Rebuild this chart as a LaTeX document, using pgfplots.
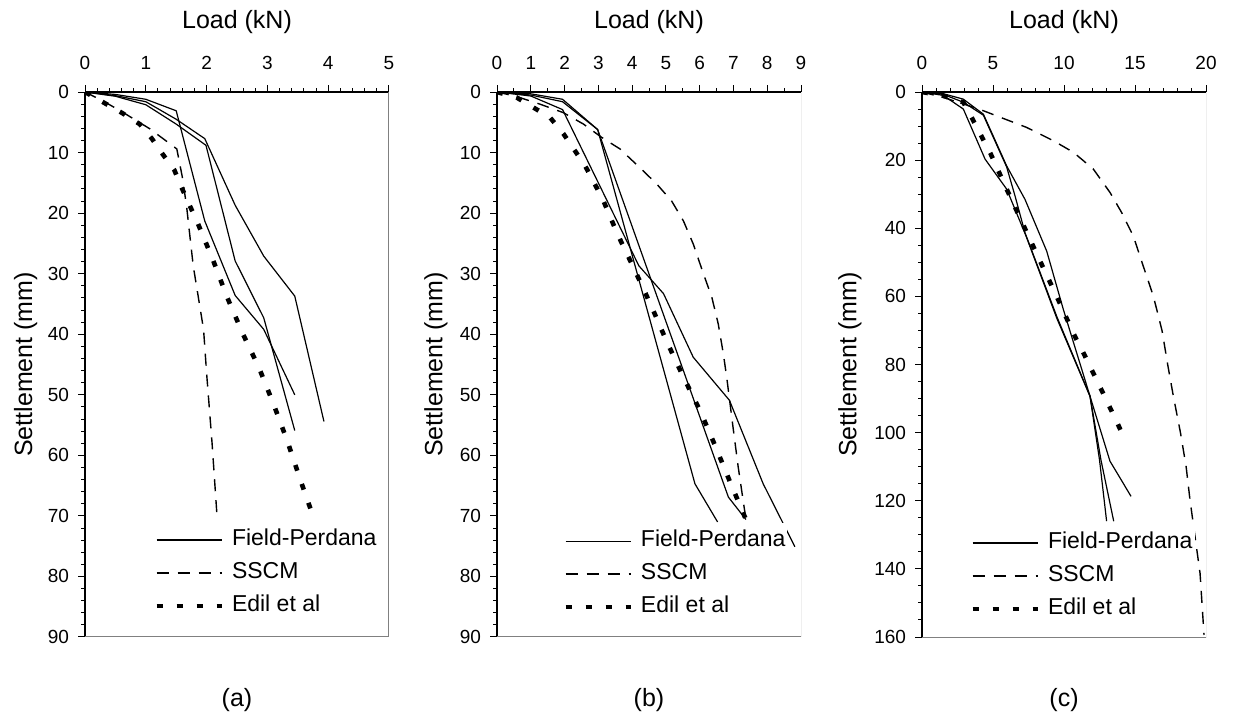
\documentclass[border=0pt]{standalone}
\usepackage{pgfplots}
\pgfplotsset{compat=1.18}
\usepackage{fontspec}
\setmainfont{Liberation Sans}

\pgfplotsset{
  panel/.style={
    scale only axis, height=272.5pt,
    y dir=reverse, xmin=0, ymin=0,
    axis x line*=top, axis y line*=left,
    axis line style={line width=0.75pt, -},
    tick align=outside,
    major tick length=3.5pt, minor tick length=2pt,
    every tick/.style={black, line width=0.5pt},
    /pgf/number format/assume math mode=true,
    tick label style={font=\fontsize{9.5}{11}\selectfont},
    xticklabel style={yshift=4pt},
    yticklabel style={xshift=-1pt},
    label style={font=\fontsize{12.5}{14}\selectfont},
    xlabel={Load (kN)}, ylabel={Settlement (mm)},
    xlabel style={at={(axis description cs:0.5,1)}, anchor=center, yshift=35pt},
    legend style={draw=none, fill=white, inner xsep=1pt, inner ysep=4pt, anchor=north west,
      font=\fontsize{11.5}{13}\selectfont, row sep=6pt,
      nodes={inner sep=0pt, text height=8pt, text depth=2.5pt}, column sep=4pt},
    legend cell align=left,
    legend image code/.code={\draw[##1] (0pt,0pt) -- (32.5pt,0pt);},
  },
  fp/.style={black, line width=0.6pt},
  sscm/.style={black, line width=0.7pt, dash pattern=on 6pt off 4.5pt},
  edil/.style={black, line width=2.3pt, dash pattern=on 3pt off 7pt},
}

\begin{document}
\begin{tikzpicture}
\useasboundingbox (0,0) rectangle (617pt,360pt);

% ---------------- (a)
\begin{axis}[panel, name=a, at={(42.5pt,314pt)}, anchor=north west, width=152pt,
  xmax=5, ymax=90, xtick={0,1,...,5}, ytick={0,10,...,90},
  minor x tick num=4, minor y tick num=4,
  ylabel style={at={(axis description cs:-0.195,0.5)}, anchor=center},
  legend style={at={(axis description cs:0.2204,0.2128)}}]
\addplot[fp] coordinates {(0,0)(0.5,0.6)(1.0,1.6)(1.5,4.5)(1.97,7.7)(2.47,18.7)(2.94,27.1)(3.45,33.7)(3.93,54.4)};
\addlegendentry{Field-Perdana}
\addplot[fp, forget plot] coordinates {(0,0)(0.5,0.7)(1.0,2.1)(1.5,5.3)(1.99,8.8)(2.47,27.9)(2.94,37.3)(3.45,55.9)};
\addplot[fp, forget plot] coordinates {(0,0)(0.5,0.4)(1.0,1.2)(1.5,3.1)(1.97,21.3)(2.47,33.6)(2.94,39.2)(3.45,50.0)};
\addplot[sscm] coordinates {(0,0)(0.3,1.5)(0.63,3.4)(1.07,6.1)(1.51,9.4)(1.6,14)(1.67,18.8)(1.78,28.7)(1.95,39.2)(2.0,46.4)(2.09,58)(2.17,69.8)};
\addlegendentry{SSCM}
\addplot[edil] coordinates {(0,0)(0.30,1.7)(0.60,3.4)(0.90,5.3)(1.10,7.7)(1.28,10.3)(1.47,12.9)(1.59,15.8)(1.86,21.8)(2.10,27.6)(2.33,33.7)(2.59,39.8)(2.86,45.5)(3.10,51.5)(3.33,57.7)(3.54,64.0)(3.75,70.0)};
\addlegendentry{Edil et al}
\draw[gray, line width=0.5pt] (axis description cs:1,1) -- (axis description cs:1,0) -- (axis description cs:0,0);
\end{axis}
\node[font=\fontsize{12.5}{14}\selectfont] at ([yshift=-31.5pt]a.south) {(a)};

% ---------------- (b)
\begin{axis}[panel, name=b, at={(248.5pt,314pt)}, anchor=north west, width=152pt,
  xmax=9, ymax=90, xtick={0,1,...,9}, ytick={0,10,...,90},
  minor x tick num=1, minor y tick num=4,
  ylabel style={at={(axis description cs:-0.201,0.5)}, anchor=center},
  legend style={at={(axis description cs:0.2105,0.2106)}}]
\addplot[fp] coordinates {(0,0)(1,0.66)(1.94,2.9)(4.2,28.7)(4.93,33.3)(5.81,43.8)(6.88,50.9)(7.88,64.7)(8.82,75.1)};
\addlegendentry{Field-Perdana}
\addplot[fp, forget plot] coordinates {(0,0)(1,0.3)(1.94,1.2)(2.98,6.2)(5.86,64.7)(6.53,71.0)};
\addplot[fp, forget plot] coordinates {(0,0)(1,0.5)(1.94,1.6)(2.98,6.2)(6.85,66.9)(7.37,70.6)};
\addplot[sscm] coordinates {(0,0)(0.53,0.66)(1.27,2.0)(1.96,3.4)(2.56,5.3)(3.10,7.5)(3.64,9.4)(4.23,12.5)(4.73,15.2)(5.17,18.0)(5.52,21.3)(5.81,25.1)(6.11,30.0)(6.36,33.9)(6.55,38.3)(6.70,43.2)(6.80,47.1)(7.0,55.9)(7.14,61.9)(7.37,70.6)};
\addlegendentry{SSCM}
\addplot[edil] coordinates {(0,0)(0.58,0.9)(1.57,4.2)(1.98,7.0)(2.61,12.2)(3.13,17.7)(3.57,23.5)(4.06,29.2)(4.55,35.1)(5.00,40.9)(5.52,47.1)(6.01,52.6)(6.45,58.3)(6.90,64.4)(7.37,70.6)};
\addlegendentry{Edil et al}
\draw[gray, line width=0.5pt] (axis description cs:1,1) -- (axis description cs:1,0) -- (axis description cs:0,0);
\end{axis}
\node[font=\fontsize{12.5}{14}\selectfont] at ([yshift=-31.5pt]b.south) {(b)};

% ---------------- (c)
\begin{axis}[panel, name=c, at={(461pt,314pt)}, anchor=north west, width=142pt,
  xmax=20, ymax=160, xtick={0,5,...,20}, ytick={0,20,...,160},
  minor x tick num=4, minor y tick num=3,
  ylabel style={at={(axis description cs:-0.254,0.5)}, anchor=center},
  legend style={at={(axis description cs:0.162,0.2073)}}]
\addplot[fp] coordinates {(0,0)(1.5,0.5)(2.91,2.1)(4.32,6.5)(5.96,21.7)(7.25,31.5)(8.78,46.7)(9.95,63.8)(11.83,89.3)(13.24,108.4)(14.72,118.7)};
\addlegendentry{Field-Perdana}
\addplot[fp, forget plot] coordinates {(0,0)(1.5,0.7)(2.91,3.0)(4.32,6.8)(5.96,22)(6.55,30.5)(7.25,41.3)(9.5,66)(11.83,89.3)(12.6,108)(13.5,126)};
\addplot[fp, forget plot] coordinates {(0,0)(1.5,1.0)(2.91,5.0)(4.44,19.7)(5.96,28.5)(7.3,42)(9.5,66.5)(11.83,89.3)(12.5,108)(13.0,126)};
\addplot[sscm] coordinates {(0,0)(1.50,1.6)(2.91,3.5)(4.32,5.5)(7.37,10.4)(9.25,14.3)(10.66,17.7)(12.06,22.6)(13.24,29.5)(14.06,35.4)(14.88,42.3)(15.58,51.1)(16.29,59.9)(16.9,70)(17.3,80)(17.7,89.3)(18.2,100)(18.6,110)(18.87,119.7)(19.58,141.3)(19.86,159.4)};
\addlegendentry{SSCM}
\addplot[edil] coordinates {(0,0)(1.5,1.1)(2.91,3.0)(3.50,7.5)(4.84,18.2)(5.96,28.5)(7.14,39.1)(8.31,49.6)(9.53,60.4)(10.70,71.2)(11.31,76.1)(12.54,86.6)(13.76,97.2)(14.34,102.6)};
\addlegendentry{Edil et al}
\draw[gray, line width=0.5pt] (axis description cs:1,1) -- (axis description cs:1,0) -- (axis description cs:0,0);
\end{axis}
\node[font=\fontsize{12.5}{14}\selectfont] at ([yshift=-31.5pt]c.south) {(c)};
\end{tikzpicture}
\end{document}
